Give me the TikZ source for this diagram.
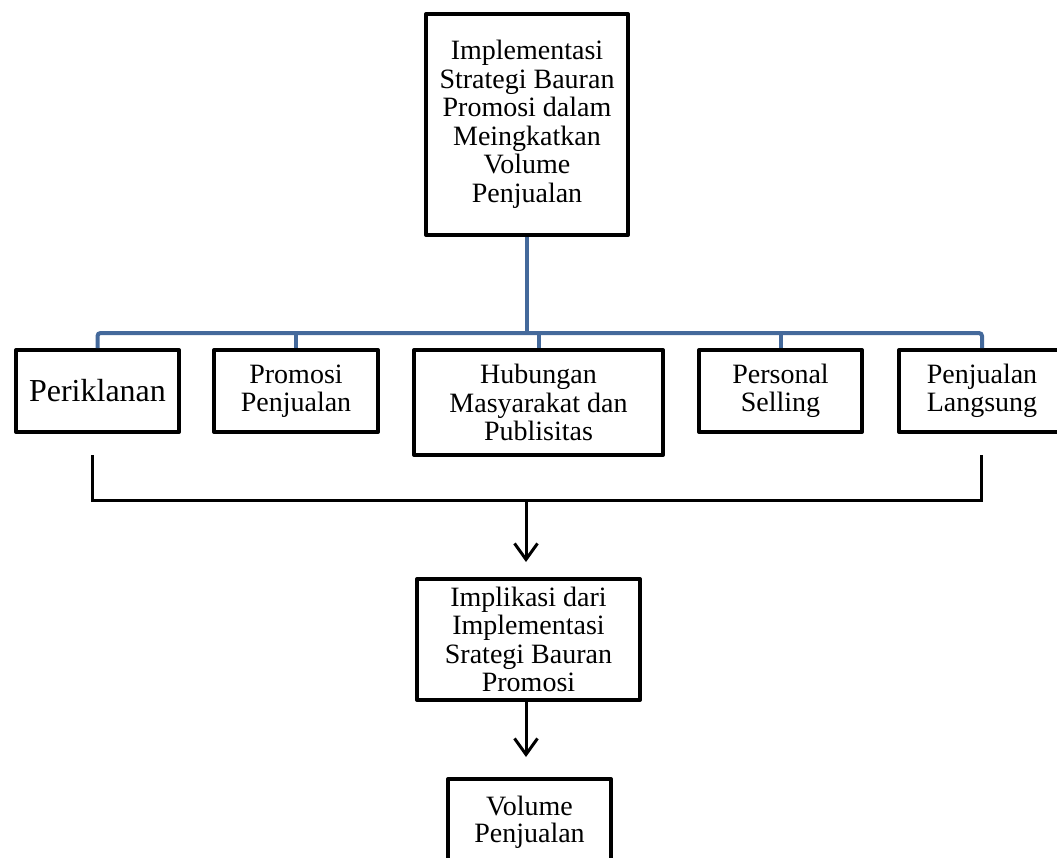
\documentclass[tikz,border=0pt]{standalone}
\usepackage{fontspec}
\setmainfont{Liberation Serif}
\usepackage{xcolor}
\usetikzlibrary{arrows.meta}
\definecolor{busblue}{RGB}{68,105,155}
\tikzset{
  box/.style={draw, line width=4pt, line join=round, align=center, inner sep=2pt,
    font=\fontsize{28}{28.5}\selectfont},
  bus/.style={draw=busblue, line width=4pt},
  link/.style={draw, line width=3pt},
}

\begin{document}
\begin{tikzpicture}[x=1pt, y=-1pt, >={Straight Barb[length=16pt, width=23pt]}]
    \useasboundingbox (0,0) rectangle (1057,857);
    \clip (0,0) rectangle (1057,857);

    \coordinate (Top) at (527, 124.5);
    \coordinate (Bus) at (527, 333);

    \coordinate (Ikl) at (97.5, 391);
    \coordinate (Prom) at (296, 391);
    \coordinate (Hum) at (538.5, 402.5);
    \coordinate (Pers) at (780.5, 391);
    \coordinate (Lang) at (982, 391);

    \coordinate (Brl) at (92, 455);
    \coordinate (Brr) at (981, 455);
    \coordinate (Brm) at (526, 500);

    \coordinate (Impk) at (528.5, 639.5);
    \coordinate (Vol) at (529.5, 822);

    \node[box, minimum width=202pt, minimum height=221pt] (impl) at (Top)
      {Implementasi\\Strategi Bauran\\Promosi dalam\\Meingkatkan\\Volume\\Penjualan};

    \node[box, minimum width=163pt, minimum height=82pt,
      font=\fontsize{32}{36}\selectfont] (ikl) at (Ikl) {Periklanan};
    \node[box, minimum width=164pt, minimum height=82pt] (prom) at (Prom)
      {Promosi\\Penjualan};
    \node[box, minimum width=249pt, minimum height=105pt] (hum) at (Hum)
      {Hubungan\\Masyarakat dan\\Publisitas};
    \node[box, minimum width=163pt, minimum height=82pt] (pers) at (Pers)
      {Personal\\Selling};
    \node[box, minimum width=166pt, minimum height=82pt] (lang) at (Lang)
      {Penjualan\\Langsung};

    \node[box, minimum width=223pt, minimum height=121pt] (impk) at (Impk)
      {Implikasi dari\\Implementasi\\Srategi Bauran\\Promosi};
    \node[box, minimum width=163pt, minimum height=86pt,
      font=\fontsize{28}{27}\selectfont] (vol) at (Vol) {Volume\\Penjualan};

    \draw[bus] (impl.south) -- (Bus);
    \draw[bus, rounded corners=3pt] (ikl.north) |- (Bus) -| (lang.north);
    \draw[bus] (prom.north) -- (prom.north |- Bus);
    \draw[bus] (hum.north) -- (hum.north |- Bus);
    \draw[bus] (pers.north) -- (pers.north |- Bus);

    \draw[link] (Brl) |- (Brm) -| (Brr);
    \draw[link, ->, shorten >=15pt] (Brm) -- (Brm |- impk.north);
    \draw[link, ->, shorten >=20pt] (impk.south -| Brm) -- (vol.north -| Brm);

  \end{tikzpicture}
\end{document}
